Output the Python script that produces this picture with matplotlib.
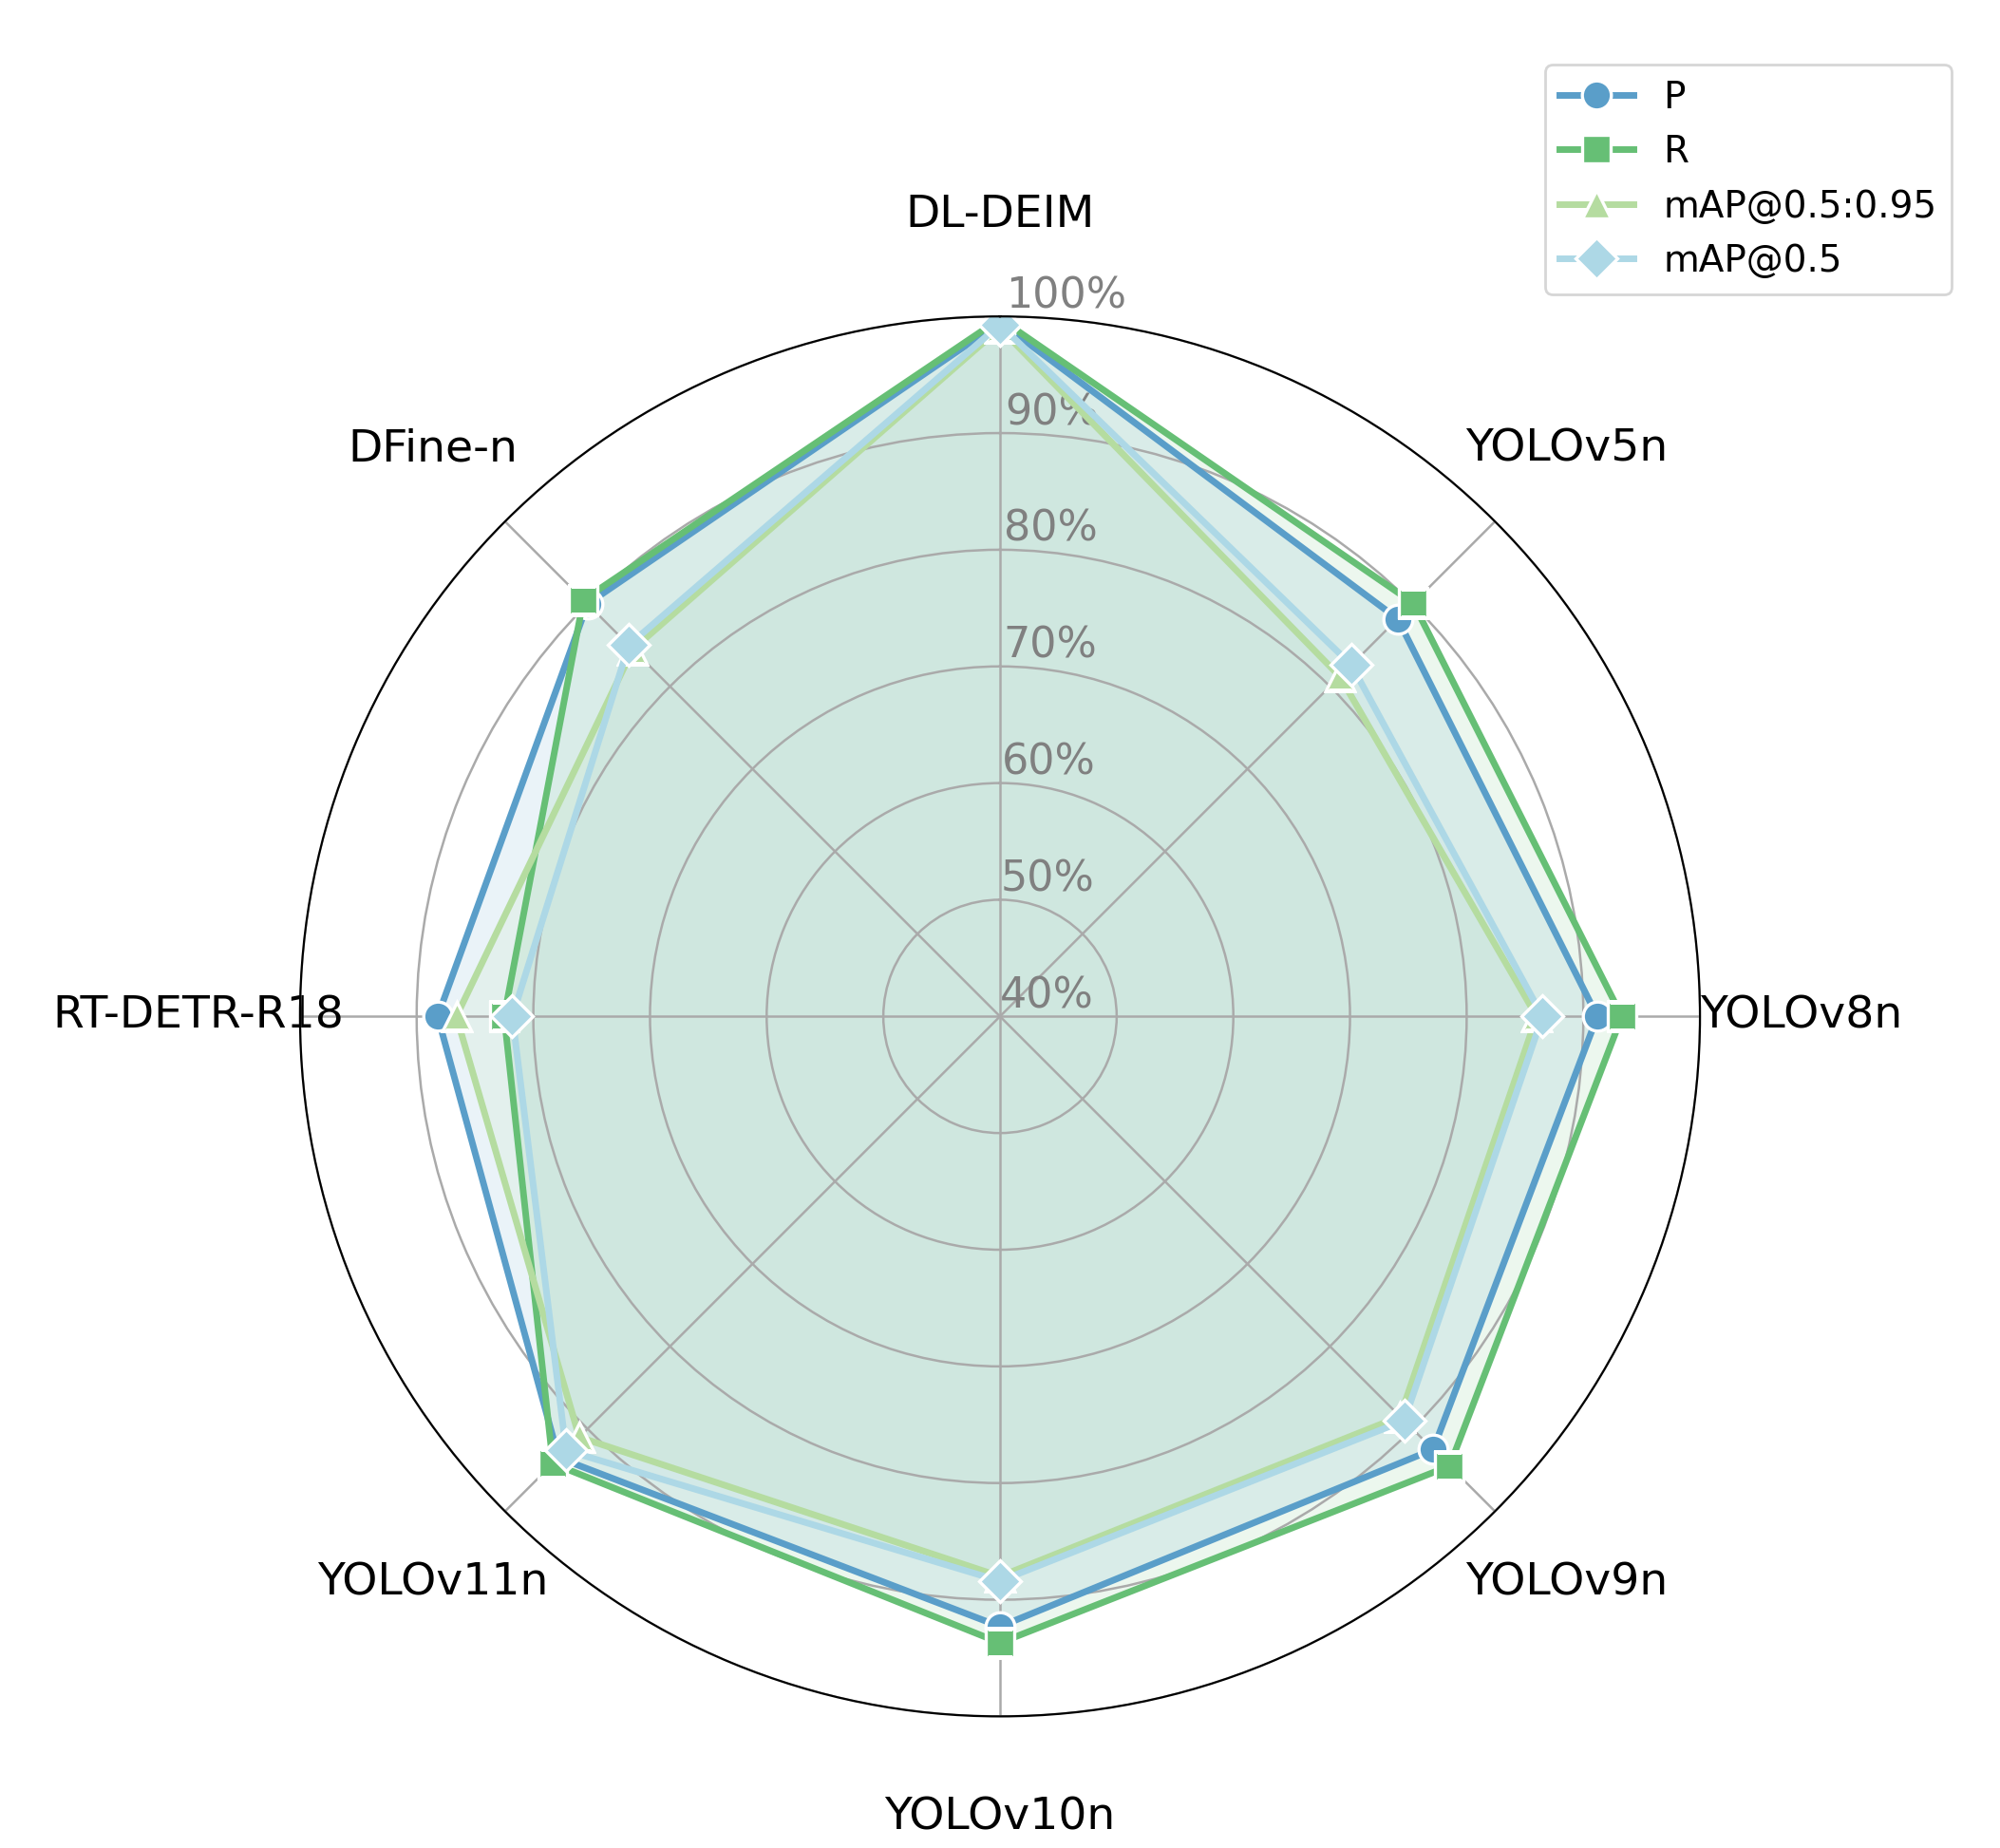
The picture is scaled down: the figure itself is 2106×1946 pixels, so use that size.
import numpy as np
import matplotlib.pyplot as plt

categories = ["DL-DEIM", "YOLOv5n", "YOLOv8n", "YOLOv9n", "YOLOv10n", "YOLOv11n", "RT-DETR-R18", "DFine-n"]
P = [99.5, 88.2, 91.2, 92.5, 92.3, 93.5, 88.2, 90.0]
R = [99.8, 90.1, 93.3, 94.5, 93.7, 94.2, 82.5, 90.5]
map5095 = [99.0, 81.2, 86.0, 88.5, 88.0, 91.0, 86.6, 84.5]
map50 = [99.3, 82.6, 86.5, 89.0, 88.4, 92.6, 81.8, 85.0]

series = [
    ("P", P, "#5a9ec9", "o"),
    ("R", R, "#66bf75", "s"),
    ("mAP@0.5:0.95", map5095, "#b5dca0", "^"),
    ("mAP@0.5", map50, "#add8e6", "D"),
]

angles = np.linspace(0, 2 * np.pi, len(categories), endpoint=False).tolist()
angles += angles[:1]

fig = plt.figure(figsize=(10.53, 9.73), dpi=200)
ax = fig.add_axes([0.15, 0.07, 0.70, 0.76], polar=True)
ax.set_theta_offset(np.pi / 2)
ax.set_theta_direction(-1)

for name, vals, color, marker in series:
    v = vals + vals[:1]
    ax.plot(angles, v, color=color, linewidth=2.5, marker=marker, markersize=11,
            markeredgecolor="white", markeredgewidth=1.2, label=name)
    ax.fill(angles, v, color=color, alpha=0.12)

ax.set_ylim(40, 100)
ax.set_yticks([40, 50, 60, 70, 80, 90, 100])
ax.set_yticklabels([f"{t}%" for t in [40, 50, 60, 70, 80, 90, 100]], color="gray", fontsize=16)
ax.set_rlabel_position(0.5)
for lbl in ax.get_yticklabels():
    lbl.set_horizontalalignment("left")
ax.set_xticks(angles[:-1])
ax.set_xticklabels(categories, fontsize=17)
ax.tick_params(axis="x", pad=28)
ax.grid(color="#aaaaaa", linewidth=0.9)

handles, labels = ax.get_legend_handles_labels()
fig.legend(handles, labels, loc="upper right", bbox_to_anchor=(0.985, 0.975), fontsize=14)
fig.savefig("out.png", dpi=200)
